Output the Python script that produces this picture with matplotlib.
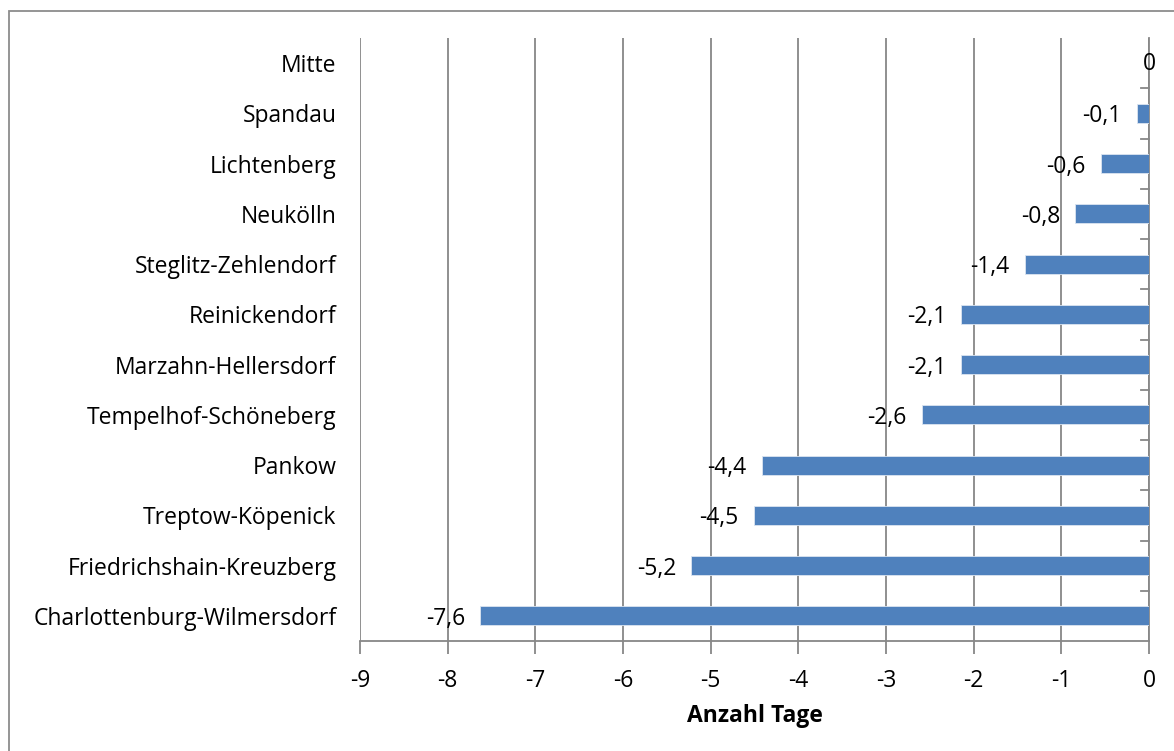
import matplotlib
matplotlib.use("Agg")
import matplotlib.pyplot as plt
from matplotlib.patches import Rectangle

# districts from bottom to top
bezirke = ["Charlottenburg-Wilmersdorf", "Friedrichshain-Kreuzberg", "Treptow-Köpenick",
           "Pankow", "Tempelhof-Schöneberg", "Marzahn-Hellersdorf", "Reinickendorf",
           "Steglitz-Zehlendorf", "Neukölln", "Lichtenberg", "Spandau", "Mitte"]
tage = [-7.63, -5.22, -4.51, -4.42, -2.59, -2.14, -2.14, -1.42, -0.84, -0.55, -0.14, 0.0]
x_ticks = [-9, -8, -7, -6, -5, -4, -3, -2, -1, 0]

plt.rcParams['font.family'] = ['Open Sans', 'DejaVu Sans']
grau = '#878787'
fs = 16.5

fig = plt.figure(figsize=(11.74, 7.51), dpi=100)
ax = fig.add_axes([360 / 1174, 1 - 641 / 751, (1149 - 360) / 1174, (641 - 38) / 751])

y = list(range(len(bezirke)))
ax.barh(y, tage, height=0.38, color='#4F81BD', edgecolor='#dbe5f1', linewidth=0.6, zorder=3)

for yi, v in zip(y, tage):
    txt = ('%.1f' % v).replace('.', ',') if v != 0 else '0'
    if v == 0:
        ax.annotate(txt, (v, yi), xytext=(0, -1), textcoords='offset pixels',
                    ha='center', va='center', fontsize=fs)
    else:
        ax.annotate(txt, (v, yi), xytext=(-15, -3), textcoords='offset pixels',
                    ha='right', va='center', fontsize=fs)

ax.set_xlim(-9, 0)
ax.set_ylim(-0.5, len(bezirke) - 0.5)
ax.set_xticks(x_ticks)
ax.set_xticklabels([str(t) for t in x_ticks], fontsize=fs)
ax.xaxis.grid(True, color=grau, linewidth=1.3, zorder=0)
ax.set_axisbelow(True)
ax.tick_params(axis='x', direction='out', length=9, width=1.3, color=grau, pad=11)

# category labels on the left, ticks at the right axis between categories
ax.set_yticks(y)
ax.set_yticklabels(bezirke, fontsize=fs)
ax.tick_params(axis='y', length=0, pad=17)
for b in [i + 0.5 for i in range(len(bezirke) - 1)]:
    ax.plot([0, -0.09], [b, b], color=grau, linewidth=1.3, clip_on=False, zorder=4)

ax.spines['top'].set_visible(False)
ax.spines['left'].set_visible(False)
ax.spines['bottom'].set_color(grau)
ax.spines['bottom'].set_linewidth(1.3)
ax.spines['right'].set_color(grau)
ax.spines['right'].set_linewidth(1.3)

ax.set_xlabel('Anzahl Tage', fontsize=fs, fontweight='bold', labelpad=8)

fig.patches.append(Rectangle((9 / 1174, -0.1), 1.2, 1 - 11 / 751 + 0.1, transform=fig.transFigure,
                             fill=False, edgecolor='#8c8c8c', linewidth=1.3))

fig.savefig('out.png', dpi=100)
